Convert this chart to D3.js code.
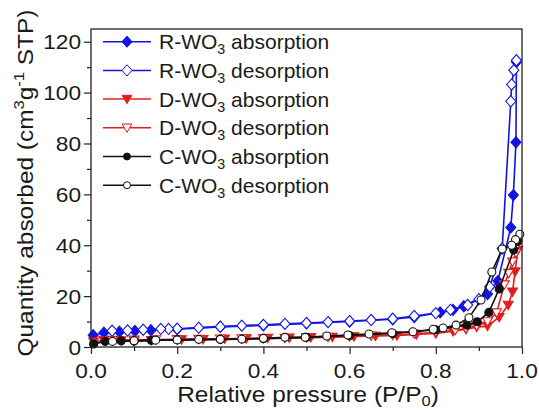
<!DOCTYPE html>
<html>
<head>
<meta charset="utf-8">
<script src="https://cdn.jsdelivr.net/npm/d3@7"></script>
<style>
    body { margin: 0; background: #fff; }
    svg text { font-family: "Liberation Sans", Arial, sans-serif; fill: #1a1a1a; }
</style>
</head>
<body>
<div id="chart"></div>
<script>
// Isotherm data (P/P0, quantity in cm3/g STP)
const rAdsP = [0.005, 0.03, 0.066, 0.102, 0.139, 0.2, 0.3, 0.4, 0.5, 0.6, 0.7, 0.75, 0.81, 0.84, 0.865, 0.92, 0.944, 0.974, 0.98, 0.986, 0.987];
const rAdsQ = [4.6, 5.6, 6.0, 6.3, 6.6, 7.0, 7.9, 8.5, 9.3, 10.0, 10.9, 11.8, 13.6, 14.6, 16.0, 20.8, 25.9, 47.0, 59.7, 80.5, 112.0];
const rDesP = [0.987, 0.981, 0.976, 0.974, 0.954, 0.925, 0.90, 0.874, 0.834, 0.80, 0.75, 0.70, 0.65, 0.60, 0.55, 0.50, 0.45, 0.40, 0.35, 0.30, 0.25, 0.20, 0.18, 0.162, 0.121, 0.085, 0.049];
const rDesQ = [112.7, 108.8, 103.2, 96.6, 38.7, 23.7, 18.8, 16.5, 14.6, 13.3, 12.2, 11.1, 10.6, 10.2, 9.8, 9.4, 9.1, 8.7, 8.4, 8.0, 7.6, 7.2, 7.1, 7.1, 6.8, 6.5, 6.4];

const dAdsP = [0.006, 0.03, 0.07, 0.10, 0.14, 0.21, 0.26, 0.31, 0.36, 0.41, 0.46, 0.51, 0.56, 0.61, 0.66, 0.71, 0.755, 0.80, 0.84, 0.87, 0.895, 0.92, 0.947, 0.968, 0.978, 0.984, 0.99];
const dAdsQ = [2.0, 2.6, 2.5, 2.4, 2.6, 2.9, 3.0, 3.2, 3.3, 3.5, 3.6, 3.8, 3.9, 4.1, 4.3, 4.5, 4.9, 5.3, 6.2, 7.0, 7.8, 8.2, 11.7, 16.5, 21.7, 29.6, 38.0];
const dDesP = [0.99, 0.986, 0.978, 0.969, 0.959, 0.941, 0.92, 0.895, 0.87, 0.845, 0.80, 0.75, 0.70, 0.65, 0.60, 0.55, 0.50, 0.45, 0.40, 0.35, 0.30, 0.25, 0.20, 0.15, 0.10, 0.05];
const dDesQ = [40.5, 37.0, 33.5, 29.0, 24.5, 13.5, 10.0, 8.3, 7.3, 6.6, 5.8, 5.2, 4.7, 4.4, 4.1, 3.9, 3.7, 3.5, 3.4, 3.3, 3.2, 3.1, 3.0, 2.9, 2.8, 2.7];

const cAdsP = [0.006, 0.033, 0.07, 0.10, 0.14, 0.2, 0.3, 0.4, 0.5, 0.6, 0.7, 0.8, 0.872, 0.896, 0.923, 0.947, 0.981, 0.99];
const cAdsQ = [1.2, 2.2, 2.4, 2.3, 2.6, 2.8, 3.0, 3.3, 3.8, 4.5, 5.3, 6.8, 8.6, 9.9, 13.6, 22.8, 38.1, 41.5];
const cDesP = [0.995, 0.985, 0.976, 0.954, 0.93, 0.905, 0.877, 0.847, 0.817, 0.794, 0.747, 0.698, 0.645, 0.596, 0.547, 0.497, 0.45, 0.40, 0.35, 0.30, 0.25, 0.20, 0.15, 0.10, 0.05];
const cDesQ = [44.3, 42.2, 40.0, 38.5, 29.5, 18.5, 11.5, 8.6, 7.5, 7.0, 6.0, 5.6, 5.1, 4.7, 4.3, 3.8, 3.8, 3.4, 3.1, 3.0, 3.0, 2.8, 2.7, 2.5, 2.2];

const seriesNames = ['R-WO|3| absorption', 'R-WO|3| desorption', 'D-WO|3| absorption', 'D-WO|3| desorption', 'C-WO|3| absorption', 'C-WO|3| desorption'];
const xTicks = [0, 0.2, 0.4, 0.6, 0.8, 1.0];
const yTicks = [0, 20, 40, 60, 80, 100, 120];

const BLUE = '#1414e2';
const RED = '#e41c1c';
const BLACK = '#111';

// Custom marker shapes
const diamond = {
    draw(ctx) {
        const w = 5, h = 5.6;
        ctx.moveTo(0, -h); ctx.lineTo(w, 0); ctx.lineTo(0, h); ctx.lineTo(-w, 0); ctx.closePath();
    }
};
const triDown = {
    draw(ctx) {
        ctx.moveTo(-4.9, -3.8); ctx.lineTo(4.9, -3.8); ctx.lineTo(0, 4.6); ctx.closePath();
    }
};

const series = [
    { p: rAdsP, q: rAdsQ, color: BLUE, shape: diamond, filled: true },
    { p: rDesP, q: rDesQ, color: BLUE, shape: diamond, filled: false },
    { p: dAdsP, q: dAdsQ, color: RED, shape: triDown, filled: true },
    { p: dDesP, q: dDesQ, color: RED, shape: triDown, filled: false },
    { p: cAdsP, q: cAdsQ, color: BLACK, shape: d3.symbolCircle, filled: true },
    { p: cDesP, q: cDesQ, color: BLACK, shape: d3.symbolCircle, filled: false }
];
series.forEach((s, i) => { s.name = seriesNames[i]; });

const width = 539, height = 410;
const margin = { left: 91, right: 17, top: 29, bottom: 63 };

const svg = d3.select('#chart')
    .append('svg')
    .attr('width', width)
    .attr('height', height);

const x = d3.scaleLinear().domain([0, 1]).range([margin.left, width - margin.right]);
const y = d3.scaleLinear().domain([0, 125]).range([height - margin.bottom, margin.top]);

const symbol = d3.symbol().size(50);

// Text with a slight horizontal stretch, like the original figure's font
function stretchedText(parent, tx, ty, rotate, sx, size, parts, anchor) {
    const t = parent.append('text')
        .attr('transform', `translate(${tx},${ty}) rotate(${rotate}) scale(${sx},1)`)
        .attr('text-anchor', anchor || 'middle')
        .style('font-size', size + 'px');
    let offset = 0;
    parts.forEach(p => {
        const shift = p.shift || 0;
        t.append('tspan')
            .attr('dy', shift - offset)
            .style('font-size', shift ? (size * 0.68) + 'px' : null)
            .text(p.t);
        offset = shift;
    });
    return t;
}

// Ticks (minor then major), labels drawn separately
function drawTicks(axis, pos) {
    svg.append('g')
        .attr('transform', pos)
        .call(axis)
        .call(g => g.select('.domain').remove())
        .call(g => g.selectAll('line').attr('stroke', '#222').attr('stroke-width', 1.2));
}
drawTicks(d3.axisBottom(x).tickValues(d3.range(0.1, 1, 0.2)).tickSize(4).tickFormat(''), `translate(0,${y(0)})`);
drawTicks(d3.axisLeft(y).tickValues(d3.range(10, 130, 20)).tickSize(4).tickFormat(''), `translate(${x(0)},0)`);
drawTicks(d3.axisBottom(x).tickValues(xTicks).tickSize(7).tickFormat(''), `translate(0,${y(0)})`);
drawTicks(d3.axisLeft(y).tickValues(yTicks).tickSize(7).tickFormat(''), `translate(${x(0)},0)`);

const fmt = d3.format('.1f');
xTicks.forEach(v => {
    stretchedText(svg, x(v), y(0) + 30.5, 0, 1.08, 21, [{ t: fmt(v) }]);
});
yTicks.forEach(v => {
    stretchedText(svg, x(0) - 10, y(v) + 7.5, 0, 1.08, 21, [{ t: String(v) }], 'end');
});

// Curves
const line = d3.line().x(d => x(d[0])).y(d => y(d[1]));

series.forEach(s => {
    const pts = s.p.map((p, i) => [p, s.q[i]]);
    const g = svg.append('g');
    g.append('path')
        .attr('d', line(pts))
        .attr('fill', 'none')
        .attr('stroke', s.color)
        .attr('stroke-width', 1.6);
    g.selectAll('path.m')
        .data(pts)
        .enter()
        .append('path')
        .attr('class', 'm')
        .attr('transform', d => `translate(${x(d[0])},${y(d[1])})`)
        .attr('d', symbol.type(s.shape)())
        .attr('fill', s.filled ? s.color : '#fff')
        .attr('stroke', s.color)
        .attr('stroke-width', 1.1);
});

// Frame
svg.append('rect')
    .attr('x', x(0))
    .attr('y', y(125))
    .attr('width', x(1) - x(0))
    .attr('height', y(0) - y(125))
    .attr('fill', 'none')
    .attr('stroke', '#222')
    .attr('stroke-width', 1.3);

// Legend
const legend = svg.append('g');
series.forEach((s, i) => {
    const cy = 41.7 + i * 28.7;
    legend.append('line')
        .attr('x1', 103).attr('x2', 151)
        .attr('y1', cy).attr('y2', cy)
        .attr('stroke', s.color)
        .attr('stroke-width', 1.5);
    legend.append('path')
        .attr('transform', `translate(127,${cy})`)
        .attr('d', d3.symbol().size(38).type(s.shape)())
        .attr('fill', s.filled ? s.color : '#fff')
        .attr('stroke', s.color)
        .attr('stroke-width', 1);
    const bits = s.name.split('|');
    stretchedText(legend, 159, cy + 7.5, 0, 1.0, 21, [
        { t: bits[0] }, { t: bits[1], shift: 5 }, { t: bits[2] }
    ], 'start');
});

// Axis titles
stretchedText(svg, 308, 401.5, 0, 1.11, 22, [
    { t: 'Relative pressure (P/P' }, { t: '0', shift: 4 }, { t: ')' }
]);
stretchedText(svg, 33, 183, -90, 1.11, 22, [
    { t: 'Quantity absorbed (cm' }, { t: '3', shift: -9 }, { t: 'g' }, { t: '-1', shift: -9 }, { t: ' STP)' }
]);
</script>
</body>
</html>
